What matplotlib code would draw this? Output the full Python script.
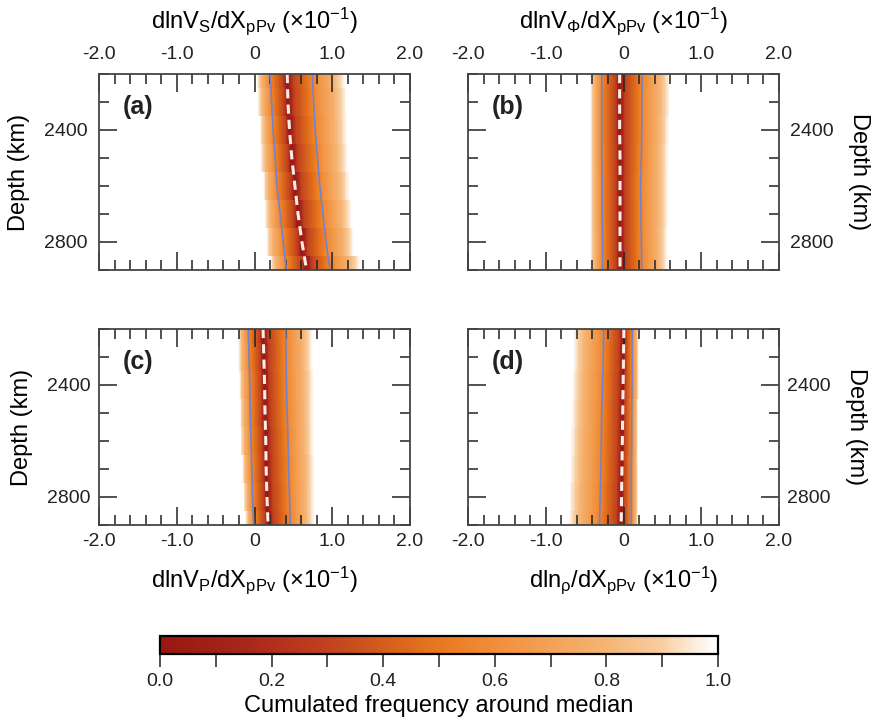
import numpy as np
import matplotlib
matplotlib.use('Agg')
import matplotlib.pyplot as plt
from matplotlib.colors import LinearSegmentedColormap
from matplotlib.ticker import MultipleLocator, FixedLocator

plt.rcParams['font.family'] = ['Liberation Sans', 'DejaVu Sans']
plt.rcParams['mathtext.default'] = 'regular'
plt.rcParams['axes.unicode_minus'] = False

# depth samples (km) - same for every panel
depth = [2200, 2300, 2400, 2500, 2600, 2700, 2800, 2900]
depth_edges = [2200, 2250, 2350, 2450, 2550, 2650, 2750, 2850, 2900]

# (a) dlnVs
vs_med = [0.42, 0.43, 0.45, 0.48, 0.52, 0.56, 0.61, 0.67]
vs_lo = [0.20, 0.22, 0.24, 0.265, 0.29, 0.33, 0.37, 0.41]
vs_hi = [0.745, 0.76, 0.78, 0.81, 0.84, 0.88, 0.92, 0.97]
vs_min = [0.03, 0.04, 0.07, 0.08, 0.11, 0.13, 0.15, 0.20]
vs_max = [1.17, 1.19, 1.19, 1.20, 1.22, 1.25, 1.28, 1.36]

# (b) dlnVphi
vphi_med = [-0.05, -0.05, -0.05, -0.045, -0.045, -0.045, -0.045, -0.045]
vphi_lo = [-0.28, -0.28, -0.28, -0.28, -0.275, -0.275, -0.27, -0.27]
vphi_hi = [0.24, 0.235, 0.235, 0.23, 0.22, 0.225, 0.23, 0.235]
vphi_min = [-0.43, -0.43, -0.43, -0.43, -0.43, -0.43, -0.43, -0.43]
vphi_max = [0.60, 0.60, 0.59, 0.58, 0.58, 0.58, 0.57, 0.57]

# (c) dlnVp
vp_med = [0.11, 0.12, 0.13, 0.135, 0.145, 0.15, 0.16, 0.175]
vp_lo = [-0.08, -0.07, -0.06, -0.055, -0.045, -0.035, -0.025, -0.01]
vp_hi = [0.40, 0.405, 0.41, 0.42, 0.43, 0.44, 0.45, 0.46]
vp_min = [-0.21, -0.21, -0.20, -0.19, -0.18, -0.16, -0.14, -0.12]
vp_max = [0.75, 0.75, 0.76, 0.76, 0.76, 0.77, 0.77, 0.77]

# (d) dlnrho
rho_med = [0.005, 0.0, -0.005, -0.01, -0.015, -0.02, -0.025, -0.03]
rho_lo = [-0.255, -0.26, -0.27, -0.28, -0.285, -0.29, -0.30, -0.31]
rho_hi = [0.11, 0.11, 0.11, 0.105, 0.105, 0.10, 0.10, 0.10]
rho_min = [-0.65, -0.65, -0.66, -0.67, -0.68, -0.69, -0.70, -0.71]
rho_max = [0.20, 0.20, 0.20, 0.19, 0.19, 0.19, 0.19, 0.19]

# shape of the cumulated frequency between the bounds:
# 0 = median, 1 = blue bound, 2 = outer edge of the distribution
t_knots = [0, 0.25, 1.0, 1.6, 2.0]
v_knots = [0, 0.3, 0.56, 0.78, 1.0]

xticks = [-2, -1, 0, 1, 2]
xticklabels = ['-2.0', '-1.0', '0', '1.0', '2.0']

cmap = LinearSegmentedColormap.from_list('cumfreq', [
    (0.0, '#971812'), (0.15, '#a8261a'), (0.3, '#c0421e'), (0.45, '#de6a1c'),
    (0.52, '#ec7d22'), (0.65, '#f29848'), (0.8, '#f5b474'), (0.9, '#f8cea0'),
    (0.96, '#fcecdc'), (1.0, '#ffffff')])

panels = [
    ('(a)', vs_med, vs_lo, vs_hi, vs_min, vs_max,
     'dlnV$_{S}$/dX$_{pPv}$ (×10$^{-1}$)', [99, 74]),
    ('(b)', vphi_med, vphi_lo, vphi_hi, vphi_min, vphi_max,
     'dlnV$_{Φ}$/dX$_{pPv}$ (×10$^{-1}$)', [468, 74]),
    ('(c)', vp_med, vp_lo, vp_hi, vp_min, vp_max,
     'dlnV$_{P}$/dX$_{pPv}$ (×10$^{-1}$)', [99, 329]),
    ('(d)', rho_med, rho_lo, rho_hi, rho_min, rho_max,
     'dln$_{ρ}$/dX$_{pPv}$ (×10$^{-1}$)', [468, 329]),
]

W, H = 876, 722
fig = plt.figure(figsize=(W / 100, H / 100), dpi=100)

x_edges = np.linspace(-2, 2, 401)
x_mid = 0.5 * (x_edges[1:] + x_edges[:-1])


def row_values(m, lo, hi, mn, mx):
    # position of each x on the 0..2 scale, left and right of the median
    t = np.where(x_mid < m,
                 np.interp(x_mid, [mn, lo, m], [2, 1, 0]),
                 np.interp(x_mid, [m, hi, mx], [0, 1, 2]))
    return np.interp(t, t_knots, v_knots)


mesh = None
for k, (tag, med, lo, hi, mn, mx, xlabel, (px, py)) in enumerate(panels):
    ax = fig.add_axes([px / W, 1 - (py + 196) / H, 311 / W, 196 / H])
    field = [row_values(med[i], lo[i], hi[i], mn[i], mx[i]) for i in range(len(depth))]
    mesh = ax.pcolormesh(x_edges, depth_edges, np.array(field), cmap=cmap,
                         vmin=0, vmax=1, shading='flat')
    ax.plot(lo, depth, color='#7282d2', lw=1.2)
    ax.plot(hi, depth, color='#7282d2', lw=1.2)
    ax.plot(med, depth, color='#fbeee8', lw=2.2, dashes=(3, 2))

    ax.set_xlim(-2, 2)
    ax.set_ylim(2900, 2200)
    ax.set_xticks(xticks)
    ax.set_xticklabels(xticklabels)
    ax.xaxis.set_minor_locator(MultipleLocator(0.2))
    ax.set_yticks([2400, 2800])
    ax.yaxis.set_minor_locator(MultipleLocator(100))
    ax.tick_params(which='both', direction='in', top=True, bottom=True,
                   left=True, right=True, labelsize=14, colors='#222222', pad=6)
    ax.tick_params(which='major', length=13, width=1.1)
    ax.tick_params(which='minor', length=7, width=1.1)
    for s in ax.spines.values():
        s.set_color('#444444')
        s.set_linewidth(1.3)

    if k < 2:
        ax.tick_params(labeltop=True, labelbottom=False, pad=8)
        ax.xaxis.set_label_position('top')
        ax.set_xlabel(xlabel, fontsize=17, labelpad=13)
    else:
        ax.set_xlabel(xlabel, fontsize=17, labelpad=10)

    if k % 2 == 1:
        ax.tick_params(labelright=True, labelleft=False)
        ax.yaxis.set_label_position('right')
        ax.set_ylabel('Depth (km)', fontsize=17, rotation=-90, labelpad=26)
    else:
        ax.set_ylabel('Depth (km)', fontsize=17, labelpad=10)

    ax.text(0.077, 0.83, tag, transform=ax.transAxes, fontsize=18,
            fontweight='bold', va='center', ha='left', color='#222222')

cax = fig.add_axes([160 / W, 1 - 654 / H, 558 / W, 18 / H])
cb = fig.colorbar(mesh, cax=cax, orientation='horizontal')
cb.set_ticks([0, 0.2, 0.4, 0.6, 0.8, 1.0])
cb.set_ticklabels(['0.0', '0.2', '0.4', '0.6', '0.8', '1.0'])
cax.xaxis.set_minor_locator(FixedLocator(np.arange(0.1, 1.0, 0.2)))
cax.tick_params(which='both', direction='out', length=9, width=1.1,
                labelsize=14, colors='#222222', pad=5)
cb.outline.set_linewidth(1.6)
cb.set_label('Cumulated frequency around median', fontsize=17, labelpad=3)

fig.savefig('out.png', dpi=100)
